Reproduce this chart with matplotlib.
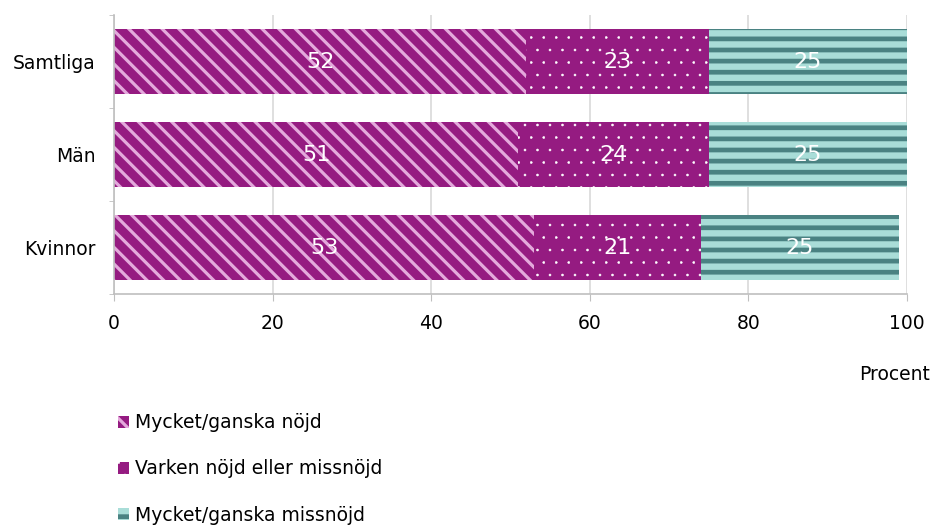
import numpy as np
import matplotlib.pyplot as plt
import matplotlib.hatch as mhatch
from matplotlib.patches import Patch

plt.rcParams['font.family'] = ['DejaVu Sans']

# Data
groups = ['Samtliga', 'Män', 'Kvinnor']
series = ['Mycket/ganska nöjd', 'Varken nöjd eller missnöjd', 'Mycket/ganska missnöjd']
nojd = [52, 51, 53]
varken = [23, 24, 21]
missnojd = [25, 25, 25]
xticks = [0, 20, 40, 60, 80, 100]


# matplotlib only allows hatch densities in steps of 6 lines per inch,
# so swap in slightly coarser horizontal stripes and dots
class Stripes(mhatch.HorizontalHatch):
    def __init__(self, hatch, density):
        self.num_lines = int(hatch.count('-') * 4.5)
        self.num_vertices = self.num_lines * 2


class Dots(mhatch.SmallFilledCircles):
    size = 0.08

    def __init__(self, hatch, density):
        self.num_rows = hatch.count('.') * 4  # must be even
        mhatch.Circles.__init__(self, hatch, density)


mhatch._hatch_types = [Stripes if t is mhatch.HorizontalHatch else
                       Dots if t is mhatch.SmallFilledCircles else t
                       for t in mhatch._hatch_types]


def hatch_width(artist, lw):
    # hatch linewidth is a global rcParam, so set it while this artist draws
    if hasattr(artist, 'set_hatch_linewidth'):
        artist.set_hatch_linewidth(lw)
    orig = artist.draw

    def draw(renderer):
        with plt.rc_context({'hatch.linewidth': lw}):
            orig(renderer)
    artist.draw = draw


purple = '#951b81'
pink = '#e4a9dc'
teal_light = '#a9ddd8'
teal_dark = '#4a8282'

styles = [
    dict(face=purple, hatch='\\\\', hcol=pink, hlw=2.3),
    dict(face=purple, hatch='..', hcol='white', hlw=0.4),
    dict(face=teal_light, hatch='--', hcol=teal_dark, hlw=3.4),
]

fig = plt.figure(figsize=(9.31, 5.28), dpi=100)
ax = fig.add_axes([0.1225, 0.443, 0.8515, 0.5286])

y = np.arange(len(groups))
left = np.zeros(len(groups))
for vals, st in zip([nojd, varken, missnojd], styles):
    bars = ax.barh(y, vals, left=left, height=0.7, color=st['face'],
                   edgecolor=st['hcol'], hatch=st['hatch'], linewidth=0,
                   zorder=2)
    for b in bars:
        hatch_width(b, st['hlw'])
    for yi, l, v in zip(y, left, vals):
        ax.text(l + v / 2, yi, str(v), ha='center', va='center',
                color='white', fontsize=16, zorder=3)
    left = left + np.array(vals)

ax.set_xlim(0, 100)
ax.set_ylim(len(groups) - 0.5, -0.5)
ax.set_xticks(xticks)
ax.set_yticks(y)
ax.set_yticklabels(groups)
ax.set_yticks(np.arange(-0.5, len(groups), 1), minor=True)
ax.tick_params(axis='y', which='major', length=0, pad=13.5, labelsize=13.5)
ax.tick_params(axis='y', which='minor', length=3.6, color='#bfbfbf')
ax.tick_params(axis='x', length=5, color='#bfbfbf', labelsize=13.5, pad=9.5)
ax.xaxis.grid(True, color='#d9d9d9', linewidth=1.2, zorder=0)
ax.set_axisbelow(True)
for s in ['top', 'right']:
    ax.spines[s].set_visible(False)
for s in ['left', 'bottom']:
    ax.spines[s].set_color('#bfbfbf')
    ax.spines[s].set_linewidth(1.2)

fig.text(0.999, 0.29, 'Procent', ha='right', va='center', fontsize=13.5)

handles = [Patch(facecolor=st['face'], edgecolor=st['hcol'], hatch=st['hatch'],
                 linewidth=0, label=name) for name, st in zip(series, styles)]
leg = fig.legend(handles=handles, loc='center left',
                 bbox_to_anchor=(0.1267, 0.112), frameon=False, fontsize=13.5,
                 handlelength=0.6, handleheight=0.6, handletextpad=0.3,
                 labelspacing=1.45, borderaxespad=0, borderpad=0)
for p, st in zip(leg.get_patches(), styles):
    hatch_width(p, st['hlw'])

fig.savefig('out.png', dpi=100)
